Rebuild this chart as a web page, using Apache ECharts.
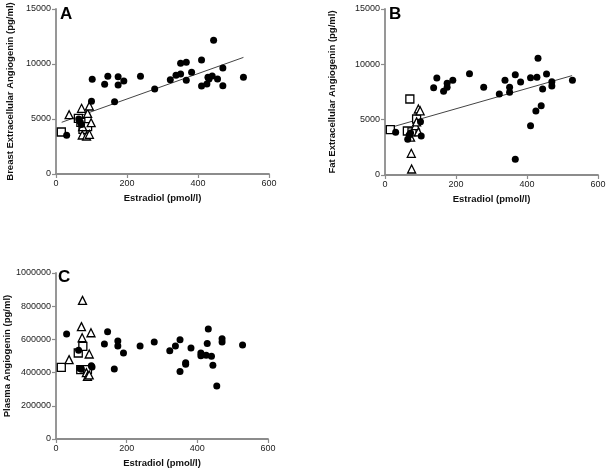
<!DOCTYPE html>
<html><head><meta charset="utf-8">
<script src="https://cdn.jsdelivr.net/npm/echarts@6/dist/echarts.min.js"></script>
<style>html,body{margin:0;padding:0;background:#fff}#c{width:609px;height:471px}</style>
</head><body><div id="c"></div>
<script>
// Estradiol (pmol/l) per group (shared across panels)
const circleX   = [30, 64, 68, 72, 100, 102, 137, 146, 165, 175, 175, 191, 238, 278, 322, 338, 351, 351, 367, 367, 382, 410, 410, 425, 428, 431, 440, 444, 455, 470, 470, 528];
const triangleX = [37, 72, 75, 74, 86, 89, 94, 94, 99];
const squareX   = [15, 63, 70, 76, 89];

// Panel A: Breast extracellular angiogenin (pg/ml)
const breastCircle   = [3515, 5000, 4757, 4500, 6606, 8606, 8150, 8878, 6575, 8848, 8090, 8454, 8878, 7727, 8575, 8969, 10060, 9090, 8515, 10150, 9242, 10363, 8000, 8181, 8787, 8636, 8908, 12150, 8636, 9636, 8030, 8787];
const breastTriangle = [5394, 5970, 4300, 3545, 3454, 5515, 6181, 3606, 4666];
const breastSquare   = [3818, 5060, 4700, 4060, 4303];
const breastFitX = [16, 528];
const breastFitY = [4700, 10600];

// Panel B: Fat extracellular angiogenin (pg/ml)
const fatCircle   = [3855, 3223, 3614, 3800, 4819, 3524, 7891, 8765, 7560, 8283, 7921, 8554, 9156, 7921, 7319, 8554, 7921, 7470, 1416, 9066, 8403, 8795, 4458, 5783, 8825, 10542, 6265, 7771, 9126, 8434, 8042, 8554];
const fatTriangle = [null, 3423, 542, 1958, 4458, 4800, 5964, 3900, 5800];
const fatSquare   = [4096, 3976, 6867, 3900, 5060];
const fatFitX = [14, 527];
const fatFitY = [4280, 8980];

// Panel C: Plasma angiogenin (pg/ml)
const plasmaCircle   = [632000, 534000, 424000, 420000, 442000, 434000, 572000, 646000, 422000, 590000, 560000, 518000, 560000, 584000, 532000, 560000, 598000, 406000, 460000, 450000, 548000, 518000, 502000, 504000, 576000, 663000, 498000, 444000, 319000, 604000, 584000, 566000];
const plasmaTriangle = [478000, 677000, 835000, 610000, 400000, 378000, 512000, 386000, 640000];
const plasmaSquare   = [432000, 518000, 418000, 558000, 418000];

// Axis ticks
const estradiolTicks = {min: 0, max: 600, interval: 200};
const tissueTicks = {min: 0, max: 15000, interval: 5000};
const plasmaTicks = {min: 0, max: 1000000, interval: 200000};

function pairs(xs, ys) {
  const out = [];
  xs.forEach((x, i) => { if (ys[i] != null) out.push([x, ys[i]]); });
  return out;
}

const FONT = 'Liberation Sans, Arial, sans-serif';
const axisLine = {show: true, lineStyle: {color: '#8c8c8c', width: 1.8}};
const axisTick = {show: true, inside: false, length: 4, lineStyle: {color: '#8c8c8c', width: 1.2}};
const axisLabel = {color: '#222', fontSize: 9, fontFamily: FONT, margin: 5, formatter: v => String(v)};
const nameStyle = {color: '#111', fontSize: 9.5, fontWeight: 'bold', fontFamily: FONT};

function xAx(grid) {
  return {type: 'value', gridIndex: grid, ...estradiolTicks, name: 'Estradiol (pmol/l)', nameLocation: 'middle', nameGap: 19,
    nameTextStyle: nameStyle, axisLine, axisTick, axisLabel, splitLine: {show: false}};
}
function yAx(grid, ticks, name, gap) {
  return {type: 'value', gridIndex: grid, ...ticks, name, nameLocation: 'middle', nameGap: gap,
    nameTextStyle: nameStyle, axisLine, axisTick, axisLabel, splitLine: {show: false}};
}

const circleStyle = {symbol: 'circle', symbolSize: 7, itemStyle: {color: '#000', opacity: 1}};
const triStyle = {symbol: 'triangle', symbolSize: 8, itemStyle: {color: '#fff', borderColor: '#000', borderWidth: 1.3, opacity: 1}};
const sqStyle = {symbol: 'rect', symbolSize: 8, itemStyle: {color: '#fff', borderColor: '#000', borderWidth: 1.3, opacity: 1}};

function scatterSet(idx, c, t, s) {
  return [
    {type: 'scatter', xAxisIndex: idx, yAxisIndex: idx, data: pairs(squareX, s), ...sqStyle, z: 3},
    {type: 'scatter', xAxisIndex: idx, yAxisIndex: idx, data: pairs(triangleX, t), ...triStyle, z: 3},
    {type: 'scatter', xAxisIndex: idx, yAxisIndex: idx, data: pairs(circleX, c), ...circleStyle, z: 4}
  ];
}
function fitLine(idx, xs, ys) {
  return {type: 'line', xAxisIndex: idx, yAxisIndex: idx, data: pairs(xs, ys), symbol: 'none',
    lineStyle: {color: '#444', width: 1}, z: 2, silent: true};
}

const chart = echarts.init(document.getElementById('c'), null, {renderer: 'canvas'});
chart.setOption({
  animation: false,
  backgroundColor: '#fff',
  grid: [
    {left: 56, top: 9, width: 213, height: 165, containLabel: false, outerBoundsMode: 'none'},
    {left: 385, top: 9, width: 213, height: 166, containLabel: false, outerBoundsMode: 'none'},
    {left: 56, top: 273, width: 212, height: 166, containLabel: false, outerBoundsMode: 'none'}
  ],
  xAxis: [xAx(0), xAx(1), xAx(2)],
  yAxis: [
    yAx(0, tissueTicks, 'Breast Extracellular Angiogenin (pg/ml)', 41),
    yAx(1, tissueTicks, 'Fat Extracellular Angiogenin (pg/ml)', 48),
    yAx(2, plasmaTicks, 'Plasma Angiogenin (pg/ml)', 44)
  ],
  graphic: [
    {type: 'text', left: 60, top: 6, style: {text: 'A', font: 'bold 17px ' + FONT, fill: '#000'}},
    {type: 'text', left: 389, top: 6, style: {text: 'B', font: 'bold 17px ' + FONT, fill: '#000'}},
    {type: 'text', left: 58, top: 269, style: {text: 'C', font: 'bold 17px ' + FONT, fill: '#000'}}
  ],
  series: [
    fitLine(0, breastFitX, breastFitY),
    ...scatterSet(0, breastCircle, breastTriangle, breastSquare),
    fitLine(1, fatFitX, fatFitY),
    ...scatterSet(1, fatCircle, fatTriangle, fatSquare),
    ...scatterSet(2, plasmaCircle, plasmaTriangle, plasmaSquare)
  ]
});
</script></body></html>
